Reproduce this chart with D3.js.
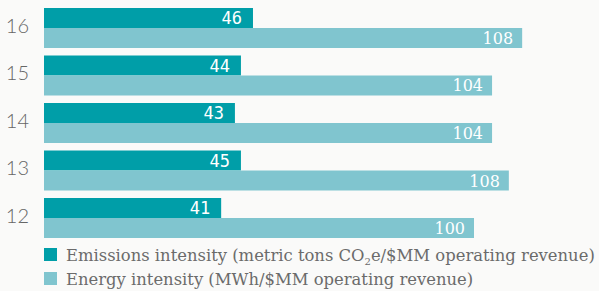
<!DOCTYPE html>
<html>
<head>
<meta charset="utf-8">
<script src="https://cdn.jsdelivr.net/npm/d3@7"></script>
<style>
  html, body { margin: 0; padding: 0; background: #fafaf9; }
  svg { display: block; }
</style>
</head>
<body>
<svg id="chart" width="599" height="291"></svg>
<script>
// ---- data ----
const years = ["16", "15", "14", "13", "12"];
const emissionsLabels = ["46", "44", "43", "45", "41"];
const energyLabels = ["108", "104", "104", "108", "100"];
// bar lengths as drawn in the picture
const emissionsValues = [48.6, 45.8, 44.4, 45.8, 41.2];
const energyValues = [111.2, 104.2, 104.2, 108.1, 100];
const seriesNames = [
  "Emissions intensity",
  "Energy intensity"
];

const darkColor = "#009ea8";
const lightColor = "#80c5cf";

const svg = d3.select("#chart");

const x = d3.scaleLinear().domain([0, 100]).range([44, 474]);
const y = d3.scaleBand().domain(years).range([8, 238]).paddingInner(0.158).paddingOuter(0);
const sub = d3.scaleBand().domain(["e", "n"]).range([0, y.bandwidth()]);

const rows = years.map((yr, i) => ({
  yr, e: emissionsValues[i], n: energyValues[i], el: emissionsLabels[i], nl: energyLabels[i]
}));

const g = svg.append("g");

g.selectAll("rect.e").data(rows).join("rect")
  .attr("x", x(0))
  .attr("y", d => y(d.yr) + sub("e"))
  .attr("width", d => x(d.e) - x(0))
  .attr("height", sub.bandwidth())
  .attr("fill", darkColor);

g.selectAll("rect.n").data(rows).join("rect")
  .attr("x", x(0))
  .attr("y", d => y(d.yr) + sub("n"))
  .attr("width", d => x(d.n) - x(0))
  .attr("height", sub.bandwidth())
  .attr("fill", lightColor);

// value labels
g.selectAll("text.el").data(rows).join("text")
  .attr("x", d => x(d.e) - 11)
  .attr("y", d => y(d.yr) + sub("e") + sub.bandwidth() / 2 + 6)
  .attr("text-anchor", "end")
  .attr("fill", "#ffffff")
  .style("font-family", "'DejaVu Sans Mono', monospace")
  .style("font-size", "17px")
  .text(d => d.el);

g.selectAll("text.nl").data(rows).join("text")
  .attr("x", d => x(d.n) - 9)
  .attr("y", d => y(d.yr) + sub("n") + sub.bandwidth() / 2 + 6)
  .attr("text-anchor", "end")
  .attr("fill", "#ffffff")
  .style("font-family", "'DejaVu Serif', serif")
  .style("font-size", "16px")
  .text(d => d.nl);

// y axis labels
const yAxis = d3.axisLeft(y).tickSize(0).tickPadding(0);
const ya = svg.append("g").attr("transform", "translate(29,-1.5)").call(yAxis);
ya.select(".domain").remove();
ya.selectAll("text")
  .attr("fill", "#666666")
  .style("font-family", "Lato, sans-serif")
  .style("font-weight", "300")
  .style("font-size", "20px")
  .attr("text-anchor", "end");

// legend
const legend = svg.append("g");
const legendY = [248, 272];
[darkColor, lightColor].forEach((c, i) => {
  legend.append("rect")
    .attr("x", 44).attr("y", legendY[i])
    .attr("width", 13).attr("height", 13)
    .attr("fill", c);
});
const lt1 = legend.append("text")
  .attr("x", 66).attr("y", 261)
  .attr("fill", "#6b6b6b")
  .style("font-family", "'DejaVu Serif', serif")
  .style("font-size", "16.4px");
lt1.append("tspan").text(seriesNames[0] + " (metric tons CO");
lt1.append("tspan").attr("dy", 4).style("font-size", "10px").text("2");
lt1.append("tspan").attr("dy", -4).text("e/$MM operating revenue)");

legend.append("text")
  .attr("x", 66).attr("y", 285)
  .attr("fill", "#6b6b6b")
  .style("font-family", "'DejaVu Serif', serif")
  .style("font-size", "16.4px")
  .text(seriesNames[1] + " (MWh/$MM operating revenue)");
</script>
</body>
</html>
